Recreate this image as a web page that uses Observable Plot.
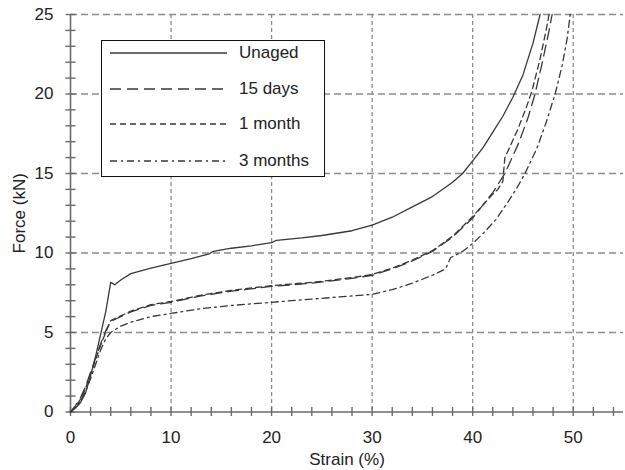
<!DOCTYPE html>
<html>
<head>
<meta charset="utf-8">
<script src="https://cdn.jsdelivr.net/npm/d3@7"></script>
<script src="https://cdn.jsdelivr.net/npm/@observablehq/plot@0.6"></script>
<style>
  html, body { margin: 0; padding: 0; background: #fff; }
  #wrap { position: relative; width: 625px; height: 470px; font-family: "Liberation Sans", Arial, sans-serif; }
  #legend { position: absolute; left: 101px; top: 40px; width: 222px; height: 135px; border: 1px solid #111; background: #fff; }
  #legend .row { position: absolute; left: 0; height: 20px; display: flex; align-items: center; }
  #legend svg { display: block; }
  #legend span { position: absolute; left: 137px; font-size: 17px; color: #222; white-space: nowrap; }
</style>
</head>
<body>
<div id="wrap"></div>
<script>
// Force–strain curves for unaged and aged specimens
const unagedStrain = [0, 0.5, 1, 1.5, 2, 2.5, 3, 3.5, 4, 4.4, 5, 6, 8, 10, 12, 13.8, 14.2, 16, 18, 20, 20.5, 23, 25, 28, 30, 32, 34, 36, 38, 39, 40, 41, 42, 43, 44, 45, 46, 46.7];
const unagedForce  = [0, 0.25, 0.6, 1.2, 2.3, 3.5, 4.9, 6.3, 8.15, 8.0, 8.3, 8.7, 9.05, 9.35, 9.65, 9.95, 10.1, 10.3, 10.45, 10.65, 10.8, 10.95, 11.1, 11.4, 11.75, 12.25, 12.9, 13.55, 14.45, 15.0, 15.8, 16.6, 17.6, 18.6, 19.8, 21.2, 23.2, 25];

const days15Strain = [0, 0.5, 1, 1.5, 2, 2.5, 3, 3.5, 4, 4.5, 5, 6, 8, 10, 13, 16, 20, 24, 28, 30, 32, 34, 36, 38, 40, 42, 43.2, 44.5, 45.5, 46.2, 47, 47.6, 47.9];
const days15Force  = [0, 0.4, 0.9, 1.6, 2.5, 3.4, 4.3, 5.1, 5.7, 5.85, 6.0, 6.3, 6.7, 6.9, 7.3, 7.6, 7.9, 8.1, 8.4, 8.6, 9.0, 9.5, 10.1, 11.0, 12.2, 13.8, 15.0, 16.8, 18.5, 20, 22.2, 24, 25];

const month1Strain = [0, 0.5, 1, 1.5, 2, 2.5, 3, 3.5, 4, 4.5, 5, 6, 8, 10, 13, 16, 20, 24, 28, 30, 32, 34, 36, 38, 40, 42, 42.5, 43.0, 43.2, 43.5, 44.5, 45.3, 45.9, 46.7, 47.3, 47.6];
const month1Force  = [0, 0.35, 0.8, 1.5, 2.4, 3.3, 4.2, 5.0, 5.75, 5.9, 6.05, 6.35, 6.75, 6.95, 7.35, 7.65, 7.95, 8.15, 8.45, 8.65, 9.05, 9.55, 10.15, 11.05, 12.3, 13.7, 14.0, 14.5, 16.0, 16.4, 17.8, 19.1, 20.2, 22.2, 24, 25];

const months3Strain = [0, 0.5, 1, 1.5, 2, 2.5, 3, 3.5, 4, 4.5, 5, 6, 8, 10, 13, 16, 20, 24, 28, 30, 32, 34, 36, 37.3, 37.8, 39, 40, 41, 42.3, 43.5, 44.5, 45.2, 46.4, 47.3, 48.2, 48.9, 49.4, 49.7];
const months3Force  = [0, 0.3, 0.7, 1.3, 2.1, 3.0, 3.9, 4.6, 5.0, 5.2, 5.4, 5.65, 6.0, 6.2, 6.5, 6.7, 6.9, 7.1, 7.3, 7.4, 7.7, 8.1, 8.6, 9.0, 9.7, 10.1, 10.6, 11.2, 12.1, 13.2, 14.2, 15.0, 16.6, 18.2, 20, 21.8, 23.5, 25];

const seriesNames = ["Unaged", "15 days", "1 month", "3 months"];
const seriesDash = [null, "11,6", "6,4", "7,4,2,4"];

const xMajor = [0, 10, 20, 30, 40, 50];
const yMajor = [0, 5, 10, 15, 20, 25];
const xMinor = d3.range(0, 55.1, 2);
const yMinor = d3.range(0, 25.1, 1);

const toRows = (xs, ys) => xs.map((x, i) => ({strain: x, force: ys[i]}));
const series = [
  toRows(unagedStrain, unagedForce),
  toRows(days15Strain, days15Force),
  toRows(month1Strain, month1Force),
  toRows(months3Strain, months3Force)
];

const ink = "#383838";
const gridColor = "#8c8c8c";

const chart = Plot.plot({
  width: 625,
  height: 470,
  marginLeft: 70,
  marginRight: 2,
  marginTop: 14,
  marginBottom: 58.5,
  style: {fontFamily: "'Liberation Sans', Arial, sans-serif", fontSize: "17px", color: "#222", background: "#fff"},
  x: {domain: [0, 55]},
  y: {domain: [0, 25]},
  marks: [
    Plot.gridX(xMajor.filter(d => d > 0), {stroke: gridColor, strokeOpacity: 1, strokeWidth: 1.3, strokeDasharray: "4,3"}),
    Plot.gridY(yMajor.filter(d => d > 0), {stroke: gridColor, strokeOpacity: 1, strokeWidth: 1.3, strokeDasharray: "7,4"}),
    // axis lines with ticks crossing them
    Plot.ruleY([0], {stroke: "#6a6a6a", strokeWidth: 1.6}),
    Plot.ruleX([0], {stroke: "#6a6a6a", strokeWidth: 1.6}),
    Plot.ruleX(xMinor, {x: d => d, y1: -0.28, y2: 0.28, stroke: "#6a6a6a", strokeWidth: 1.4}),
    Plot.ruleY(yMinor, {y: d => d, x1: -0.45, x2: 0.55, stroke: "#6a6a6a", strokeWidth: 1.4}),
    Plot.axisX(xMajor, {tickSize: 0, tickPadding: 19, fontSize: 17, label: "Strain (%)", labelAnchor: "center", labelArrow: "none", labelOffset: 53}),
    Plot.axisY(yMajor, {tickSize: 0, tickPadding: 17, fontSize: 17, label: "Force (kN)", labelAnchor: "center", labelArrow: "none", labelOffset: 58}),
    ...series.map((rows, i) => Plot.line(rows, {
      x: "strain", y: "force",
      stroke: ink, strokeWidth: 1.3,
      strokeDasharray: seriesDash[i] ?? undefined
    }))
  ]
});

const wrap = document.getElementById("wrap");
wrap.appendChild(chart);

// Legend box with line samples
const legend = document.createElement("div");
legend.id = "legend";
const rowTops = [2, 38, 73, 110];
seriesNames.forEach((name, i) => {
  const row = document.createElement("div");
  row.className = "row";
  row.style.top = rowTops[i] + "px";
  const svg = d3.create("svg").attr("width", 130).attr("height", 20);
  svg.append("line")
    .attr("x1", 8).attr("x2", 125).attr("y1", 10).attr("y2", 10)
    .attr("stroke", ink).attr("stroke-width", 1.3)
    .attr("stroke-dasharray", seriesDash[i]);
  row.appendChild(svg.node());
  const label = document.createElement("span");
  label.textContent = name;
  row.appendChild(label);
  legend.appendChild(row);
});
wrap.appendChild(legend);
</script>
</body>
</html>
